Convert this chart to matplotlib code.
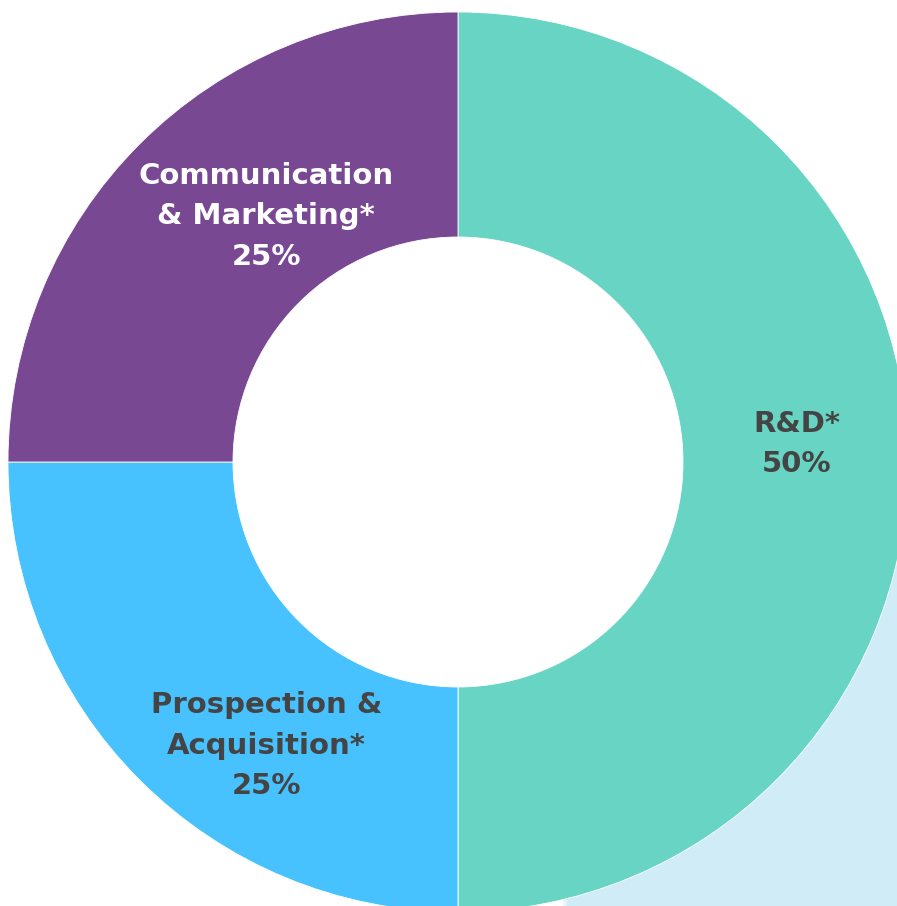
import matplotlib
matplotlib.use("Agg")
import matplotlib.pyplot as plt
from matplotlib.patches import Rectangle, Circle
import numpy as np

categories = ["R&D*", "Prospection &\nAcquisition*", "Communication\n& Marketing*"]
values = [50, 25, 25]
colors = ["#68D4C4", "#48C2FE", "#784893"]
text_colors = ["#444444", "#444444", "#FFFFFF"]

W, H = 897, 906
fig = plt.figure(figsize=(W / 100, H / 100), dpi=100)
ax = fig.add_axes([0, 0, 1, 1])
ax.set_xlim(0, W)
ax.set_ylim(0, H)
ax.set_aspect("equal")
ax.axis("off")

cx, cy = 458, H - 462
R = 450

# light blue background shape in lower-right corner
ax.add_patch(Rectangle((568, 0), W - 568, H - 565, facecolor="#D0ECF7",
                       edgecolor="none", zorder=0))
for i, a in enumerate(np.linspace(0.15, 0.85, 6)):
    ax.add_patch(Rectangle((562 + i, 0), 1, H - 565, facecolor="#D0ECF7",
                           alpha=a, edgecolor="none", zorder=0))

wedges, _ = ax.pie(values, colors=colors, startangle=90, counterclock=False,
                   center=(cx, cy), radius=R,
                   wedgeprops=dict(width=R * 0.5, edgecolor="white", linewidth=0.6),
                   frame=True)
ax.add_patch(Circle((cx, cy), R * 0.5, facecolor="white", edgecolor="none", zorder=0.5))
ax.set_xlim(0, W)
ax.set_ylim(0, H)
ax.axis("off")

# label layout: (angle offset from wedge mid, radius fraction)
layout = [(3, 0.754), (11, 0.76), (-7, 0.693)]
for w, lab, v, tc, (dang, rf) in zip(wedges, categories, values, text_colors, layout):
    mid = (w.theta1 + w.theta2) / 2 + dang
    x = cx + R * rf * np.cos(np.radians(mid))
    y = cy + R * rf * np.sin(np.radians(mid))
    ax.text(x, y, f"{lab}\n{v}%", ha="center", va="center", color=tc,
            fontsize=21, fontweight="bold", family="DejaVu Sans",
            linespacing=1.56, multialignment="center")

fig.savefig("out.png", dpi=100)
